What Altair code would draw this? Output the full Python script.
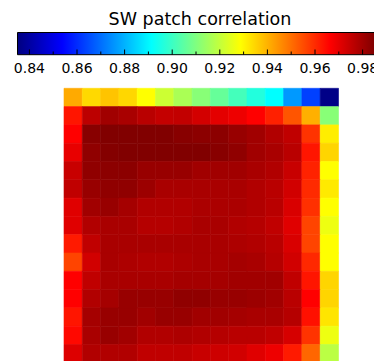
import altair as alt
import pandas as pd

# Correlation matrix, one list per row (top to bottom), 15 columns each
row00 = [0.9412, 0.9343, 0.9374, 0.9346, 0.9288, 0.9212, 0.9162, 0.9112, 0.9062, 0.9012, 0.8962, 0.8912, 0.8762, 0.8632, 0.8360]
row01 = [0.9632, 0.9762, 0.9802, 0.9790, 0.9766, 0.9749, 0.9752, 0.9728, 0.9702, 0.9687, 0.9663, 0.9615, 0.9537, 0.9404, 0.9112]
row02 = [0.9663, 0.9838, 0.9849, 0.9849, 0.9849, 0.9849, 0.9838, 0.9832, 0.9832, 0.9814, 0.9802, 0.9778, 0.9755, 0.9587, 0.9313]
row03 = [0.9696, 0.9826, 0.9844, 0.9849, 0.9849, 0.9849, 0.9849, 0.9849, 0.9838, 0.9826, 0.9802, 0.9790, 0.9766, 0.9632, 0.9349]
row04 = [0.9743, 0.9826, 0.9832, 0.9832, 0.9814, 0.9814, 0.9814, 0.9802, 0.9802, 0.9802, 0.9790, 0.9778, 0.9743, 0.9612, 0.9288]
row05 = [0.9755, 0.9814, 0.9826, 0.9826, 0.9808, 0.9790, 0.9790, 0.9790, 0.9790, 0.9790, 0.9778, 0.9766, 0.9731, 0.9601, 0.9318]
row06 = [0.9708, 0.9802, 0.9814, 0.9796, 0.9778, 0.9778, 0.9778, 0.9787, 0.9787, 0.9787, 0.9778, 0.9766, 0.9719, 0.9592, 0.9288]
row07 = [0.9708, 0.9778, 0.9790, 0.9790, 0.9772, 0.9772, 0.9778, 0.9790, 0.9790, 0.9778, 0.9772, 0.9755, 0.9708, 0.9562, 0.9262]
row08 = [0.9624, 0.9755, 0.9790, 0.9790, 0.9790, 0.9790, 0.9790, 0.9790, 0.9790, 0.9784, 0.9778, 0.9766, 0.9719, 0.9562, 0.9288]
row09 = [0.9562, 0.9731, 0.9790, 0.9784, 0.9778, 0.9778, 0.9784, 0.9790, 0.9790, 0.9796, 0.9790, 0.9772, 0.9731, 0.9603, 0.9288]
row10 = [0.9663, 0.9755, 0.9790, 0.9790, 0.9790, 0.9790, 0.9796, 0.9796, 0.9796, 0.9802, 0.9802, 0.9802, 0.9755, 0.9632, 0.9349]
row11 = [0.9663, 0.9778, 0.9796, 0.9814, 0.9814, 0.9814, 0.9826, 0.9826, 0.9814, 0.9814, 0.9808, 0.9802, 0.9766, 0.9663, 0.9349]
row12 = [0.9632, 0.9796, 0.9814, 0.9814, 0.9802, 0.9814, 0.9814, 0.9802, 0.9802, 0.9796, 0.9790, 0.9790, 0.9772, 0.9639, 0.9326]
row13 = [0.9651, 0.9790, 0.9814, 0.9802, 0.9778, 0.9778, 0.9784, 0.9778, 0.9772, 0.9766, 0.9766, 0.9755, 0.9723, 0.9587, 0.9262]
row14 = [0.9712, 0.9778, 0.9778, 0.9778, 0.9755, 0.9755, 0.9755, 0.9743, 0.9737, 0.9731, 0.9708, 0.9687, 0.9624, 0.9512, 0.9187]

matrix_rows = [row00, row01, row02, row03, row04, row05, row06, row07,
               row08, row09, row10, row11, row12, row13, row14]

# Colour bar range and ticks
cbar_min, cbar_max = 0.835, 0.985
major_ticks = [0.84, 0.86, 0.88, 0.90, 0.92, 0.94, 0.96, 0.98]
major_labels = ["0.84", "0.86", "0.88", "0.90", "0.92", "0.94", "0.96", "0.98"]
minor_ticks = [0.85, 0.87, 0.89, 0.91, 0.93, 0.95, 0.97]
title_text = "SW patch correlation"

# Jet colour table: relative stop positions and colours
jet_pos = [0.0, 0.125, 0.375, 0.625, 0.875, 1.0]
jet_col = ["#000080", "#0000ff", "#00ffff", "#ffff00", "#ff0000", "#800000"]

FONT = "DejaVu Sans"

heat_df = pd.DataFrame(
    [{"row": r, "col": c, "value": v}
     for r, vals in enumerate(matrix_rows) for c, v in enumerate(vals)]
)

jet_scale = alt.Scale(
    domain=[cbar_min + (cbar_max - cbar_min) * p for p in jet_pos],
    range=jet_col,
    interpolate="rgb",
)

heat = alt.Chart(heat_df).mark_rect(strokeWidth=0.6).encode(
    x=alt.X("col:O", scale=alt.Scale(range=[64, 338.5], paddingInner=0, paddingOuter=0), axis=None),
    y=alt.Y("row:O", scale=alt.Scale(range=[88.3, 362.8], paddingInner=0, paddingOuter=0), axis=None),
    color=alt.Color("value:Q", scale=jet_scale, legend=None),
    stroke=alt.Stroke("value:Q", scale=jet_scale, legend=None),
)

cbar_x = alt.Scale(domain=[cbar_min, cbar_max], range=[17.5, 374.5])

jet_gradient = {
    "gradient": "linear",
    "x1": 0, "x2": 1, "y1": 0, "y2": 0,
    "stops": [{"offset": p, "color": c} for p, c in zip(jet_pos, jet_col)],
}

cbar = alt.Chart(pd.DataFrame({"lo": [cbar_min], "hi": [cbar_max]})).mark_rect(
    fill=jet_gradient, stroke="black", strokeWidth=1
).encode(
    x=alt.X("lo:Q", scale=cbar_x, axis=None),
    x2="hi:Q",
    y=alt.value(32.5),
    y2=alt.value(54.7),
)

major = alt.Chart(pd.DataFrame({"v": major_ticks, "label": major_labels})).mark_rule(
    color="black", strokeWidth=1
).encode(
    x=alt.X("v:Q", scale=cbar_x, axis=None),
    y=alt.value(49.5),
    y2=alt.value(54.7),
)

minor = alt.Chart(pd.DataFrame({"v": minor_ticks})).mark_rule(
    color="black", strokeWidth=1
).encode(
    x=alt.X("v:Q", scale=cbar_x, axis=None),
    y=alt.value(51.5),
    y2=alt.value(54.7),
)

labels = alt.Chart(pd.DataFrame({"v": major_ticks, "label": major_labels})).mark_text(
    font=FONT, fontSize=14, color="black", align="center", baseline="alphabetic"
).encode(
    x=alt.X("v:Q", scale=cbar_x, axis=None),
    y=alt.value(73),
    text="label:N",
)

title = alt.Chart(pd.DataFrame({"t": [title_text]})).mark_text(
    font=FONT, fontSize=17.5, color="black", align="center", baseline="alphabetic"
).encode(
    x=alt.value(200),
    y=alt.value(24.5),
    text="t:N",
)

chart = (
    alt.layer(heat, cbar, major, minor, labels, title)
    .resolve_scale(x="independent", y="independent", color="independent", stroke="independent")
    .properties(width=374, height=361, autosize="none", padding=0, background="white")
    .configure_view(stroke=None)
)

chart.save("out.html", embed_options={"renderer": "svg", "actions": False})
